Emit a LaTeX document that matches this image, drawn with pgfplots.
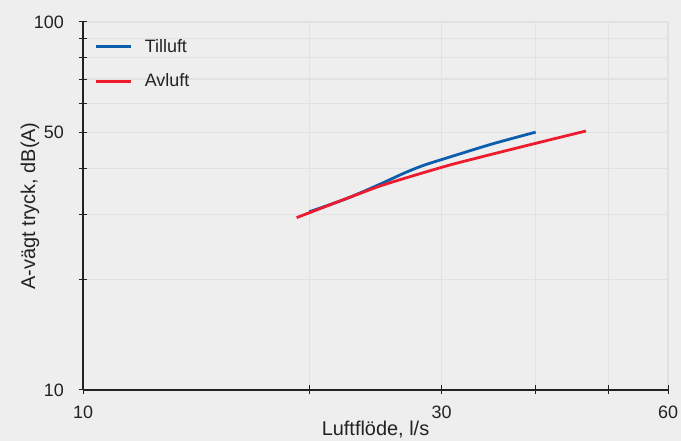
\documentclass[border=0pt]{standalone}
\usepackage{fontspec}
\setmainfont{Liberation Sans}
\usepackage{pgfplots}
\pgfplotsset{compat=1.18}
\definecolor{bg}{HTML}{EEEEEE}
\definecolor{gridc}{HTML}{E1E1E1}
\definecolor{tblue}{HTML}{0B5DAD}
\definecolor{tred}{HTML}{EC1C2E}
\definecolor{txt}{HTML}{222222}
\begin{document}
\begin{tikzpicture}[x=1bp,y=1bp]
\fill[bg] (0,0) rectangle (681,441);
\useasboundingbox (0,0) rectangle (681,441);
\begin{loglogaxis}[
  at={(83bp,51bp)}, anchor=south west,
  scale only axis, width=585bp, height=368bp,
  xmin=10, xmax=60, ymin=10, ymax=100,
  axis x line*=bottom, axis y line*=left,
  axis line style={txt, line width=1.1bp},
  xtick={10,20,30,40,50,60}, xticklabels={10,,30,,,60},
  ytick={10,20,30,40,50,60,70,80,90,100},
  yticklabels={10,,,,50,,,,,100},
  minor tick style={draw=none}, minor grid style={draw=none},
  grid=major, major grid style={gridc, line width=1.2bp},
  tick align=center, major tick length=9bp, tick style={txt, line width=1bp},
  /pgf/number format/assume math mode=true,
  ticklabel style={font=\fontsize{18}{18}\selectfont, text=txt, inner sep=0pt},
  xticklabel style={anchor=base, yshift=-24.5bp},
  yticklabel style={anchor=east, xshift=-14.5bp},
  xlabel={Luftflöde, l/s},
  ylabel={A-vägt tryck, dB(A)},
  label style={font=\fontsize{20}{20}\selectfont, text=txt},
  xlabel style={at={(axis description cs:0.5,-0.1087)}, anchor=center},
  ylabel style={at={(axis description cs:-0.0906,0.5)}, anchor=center},
  legend style={draw=none, fill=none, inner sep=0pt, outer sep=0pt,
    at={(axis description cs:0.0205,0.9524)}, anchor=north west,
    font=\fontsize{18}{18}\selectfont, text=txt,
    nodes={inner sep=0pt}, row sep=20bp},
  legend cell align=left,
  legend image code/.code={\draw[#1, line width=2.8bp] (0bp,0bp) -- (35bp,0bp); \path (47bp,0bp);},
]
\addplot[tblue, line width=2.8bp, line join=round, smooth, tension=0.45] coordinates {
(20,30.5) (22.4,33.1) (24.8,36.2) (26.7,38.8) (28.4,40.8) (30.8,43.0) (35,46.6) (40,50.2)
};
\addlegendentry{Tilluft}
\addplot[tred, line width=2.8bp, line join=round, smooth, tension=0.3] coordinates {
(19.24,29.4) (24.8,35.8) (30.8,40.9) (40,46.8) (46.66,50.56)
};
\addlegendentry{Avluft}
\end{loglogaxis}
\end{tikzpicture}
\end{document}
